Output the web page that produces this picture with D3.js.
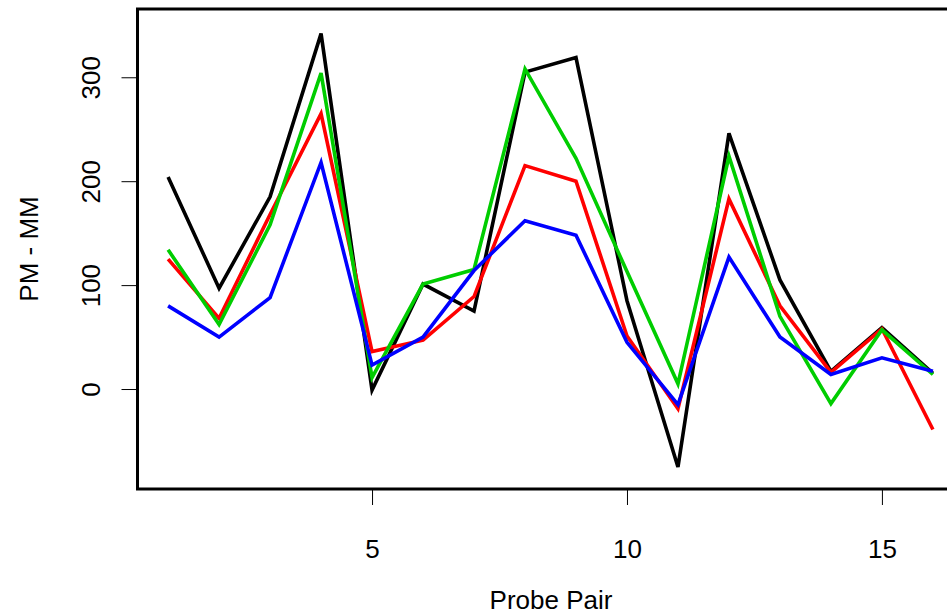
<!DOCTYPE html>
<html><head><meta charset="utf-8">
<script src="https://cdn.jsdelivr.net/npm/d3@7"></script>
<style>body{margin:0;background:#fff;} text{font-family:"Liberation Sans",Arial,sans-serif;}</style>
</head><body>
<svg id="c" width="947" height="616"></svg>
<script>
const probePairs = [1,2,3,4,5,6,7,8,9,10,11,12,13,14,15,16];
const seriesBlack = [204, 97, 185, 342, -1, 101, 75, 305, 319, 85, -75, 246, 105, 17, 59, 15];
const seriesRed   = [125, 68, 168, 265, 36, 47, 89, 215, 200, 51, -19, 183, 80, 16, 58, -39];
const seriesGreen = [134, 62, 158, 304, 11, 101, 115, 308, 222, 113, 5, 224, 70, -14, 57, 14];
const seriesBlue  = [80, 50, 88, 218, 23, 50, 114, 162, 148, 45, -15, 127, 50, 14, 30, 17];
const xTicks = [5, 10, 15];
const yTicks = [0, 100, 200, 300];
const seriesColors = ["#000000", "#FF0000", "#00CD00", "#0000FF"];

const svg = d3.select("#c");
const L = 137.5, R = 963.5, T = 9, B = 489;
const x = d3.scaleLinear().domain([0.4, 16.6]).range([L, R]);
const y = d3.scaleLinear().domain([-96.2, 365.7]).range([B, T]);

svg.append("defs").append("clipPath").attr("id","clip")
  .append("rect").attr("x",L).attr("y",T).attr("width",R-L).attr("height",B-T);

const line = d3.line().x((d,i)=>x(probePairs[i])).y(d=>y(d));
const g = svg.append("g").attr("clip-path","url(#clip)");
[seriesBlack, seriesRed, seriesGreen, seriesBlue].forEach((s,k)=>{
  g.append("path").attr("d", line(s)).attr("fill","none")
    .attr("stroke", seriesColors[k]).attr("stroke-width",3.6)
    .attr("stroke-linejoin","miter").attr("stroke-linecap","butt");
});

// box
svg.append("rect").attr("x",L).attr("y",T).attr("width",R-L).attr("height",B-T)
  .attr("fill","none").attr("stroke","#000").attr("stroke-width",3);

// x axis
const xa = svg.append("g").attr("transform",`translate(0,${B})`)
  .call(d3.axisBottom(x).tickValues(xTicks).tickSize(16).tickPadding(0).tickFormat(d3.format("d")));
xa.select(".domain").remove();
xa.selectAll("line").attr("stroke","#000").attr("stroke-width",1);
xa.selectAll("text").attr("font-size",26).attr("fill","#000").attr("dy",null).attr("y",69);

// y axis
const ya = svg.append("g").attr("transform",`translate(${L},0)`)
  .call(d3.axisLeft(y).tickValues(yTicks).tickSize(16).tickPadding(0).tickFormat(d3.format("d")));
ya.select(".domain").remove();
ya.selectAll("line").attr("stroke","#000").attr("stroke-width",1);
ya.selectAll("text").attr("font-size",26).attr("fill","#000")
  .attr("x",null).attr("dy",null).attr("text-anchor","middle")
  .attr("transform","translate(-38,0) rotate(-90)");

svg.append("text").attr("x",551).attr("y",609).attr("text-anchor","middle")
  .attr("font-size",26).attr("fill","#000").text("Probe Pair");
svg.append("text").attr("transform",`translate(38,${(T+B)/2}) rotate(-90)`)
  .attr("text-anchor","middle").attr("font-size",26).attr("fill","#000").text("PM - MM");
</script>
</body></html>
